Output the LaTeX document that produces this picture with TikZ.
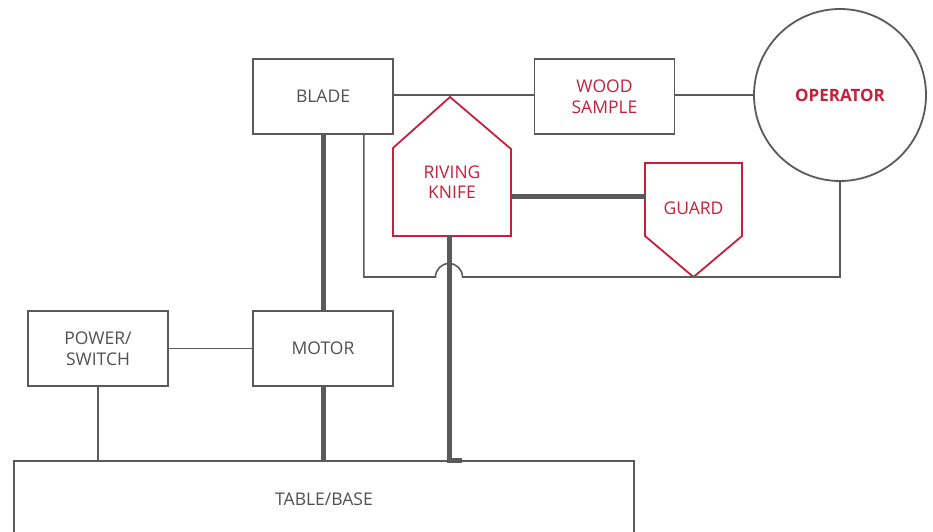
\documentclass[tikz,border=0pt]{standalone}
\usepackage{fontspec}
\setmainfont{Open Sans}
\usetikzlibrary{calc}
\definecolor{lgray}{HTML}{5A5A5A}
\definecolor{tgray}{HTML}{505050}
\definecolor{cred}{HTML}{C8203A}
\tikzset{
  box/.style={draw=lgray, line width=1.8pt, minimum width=140pt, minimum height=75pt, align=center, text=tgray, font=\fontsize{17.5}{20.5}\selectfont, inner sep=0pt},
  redtext/.style={align=center, text=cred, font=\fontsize{17.5}{20.5}\selectfont, inner sep=0pt},
  redline/.style={draw=cred, line width=1.8pt, line join=miter},
  thinline/.style={draw=lgray, line width=1.6pt},
  thickline/.style={draw=lgray, line width=5pt},
}
\begin{document}
\begin{tikzpicture}[x=1pt,y=-1pt]
\clip (0,0) rectangle (933,531);
\fill[white] (0,0) rectangle (933,531);
% nodes
\node[box] (blade) at (323,96.5) {BLADE};
\node[box, text=cred] (wood) at (604.5,96.5) {WOOD\\SAMPLE};
\node[circle, draw=lgray, line width=1.8pt, minimum size=172pt, inner sep=0pt, text=cred, font=\fontsize{17}{20}\selectfont\bfseries] (op) at (840,95) {OPERATOR};
\node[box] (motor) at (323,348.5) {MOTOR};
\node[box] (power) at (98,348.5) {POWER/\\SWITCH};
\node[box, minimum width=620pt, minimum height=76pt, anchor=north] (table) at (324,460) {TABLE/BASE};
\node[redtext, minimum width=118pt] (knife) at (452,182) {RIVING\\KNIFE};
\node[redtext, minimum width=97pt] (guard) at (693.5,208) {GUARD};
% shapes of knife and guard
\draw[redline] ($(knife)+(-59,54)$) -- ($(knife)+(59,54)$) -- ($(knife)+(59,-33)$) -- ($(knife)+(-2,-85)$) -- ($(knife)+(-59,-34)$) -- cycle;
\draw[redline] ($(guard)+(-48.5,-45)$) -- ($(guard)+(48.5,-45)$) -- ($(guard)+(48.5,28)$) -- ($(guard)+(0,69)$) -- ($(guard)+(-48.5,28)$) -- cycle;
\coordinate (knifebot) at ($(knife)+(-3,54)$);
\coordinate (hopy) at (0,277);
% connectors
\draw[thinline] ([yshift=1.5pt]blade.east) -- ([yshift=1.5pt]wood.west);
\draw[thinline] ([yshift=1.5pt]wood.east) -- (op.west);
\draw[thinline] (power.east) -- (motor.west);
\draw[thinline] (power.south) -- (power.south |- table.north);
\draw[thickline] (blade.south) -- (motor.north);
\draw[thickline] (motor.south) -- (motor.south |- table.north);
\draw[thickline] ([yshift=-14pt]knife.east) -- ([yshift=-14pt]knife.east -| {$(guard)+(-48.5,0)$});
\draw[thickline] (knifebot) -- (knifebot |- table.north) -- ++(13,0);
\draw[thinline] ([xshift=-30pt]blade.south east) |- ($(knifebot |- hopy)+(-13.5,0)$) arc[start angle=180,end angle=0,radius=13.5pt] -| (op.south);
\end{tikzpicture}
\end{document}
